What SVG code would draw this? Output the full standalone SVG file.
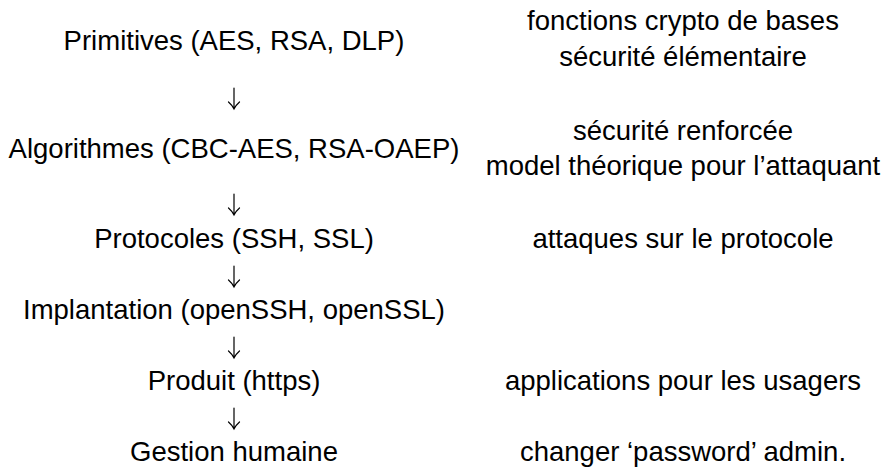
<svg xmlns="http://www.w3.org/2000/svg" width="892" height="468" viewBox="0 0 892 468">
  <style>
    text { font-family: "Liberation Sans", Arial, sans-serif; font-size: 27.5px; fill: #000; text-anchor: middle; }
    .arrow { fill: none; stroke: #000; stroke-width: 1.2; stroke-linecap: round; }
  </style>
  <rect width="892" height="468" fill="#fff"/>

  <!-- layers of the security chain (left) with their notes (right) -->
  <g id="primitives">
    <text x="234" y="50">Primitives (AES, RSA, DLP)</text>
    <text x="683" y="30">fonctions crypto de bases</text>
    <text x="683" y="66">sécurité élémentaire</text>
  </g>
  <g id="algorithmes">
    <text x="234" y="158">Algorithmes (CBC-AES, RSA-OAEP)</text>
    <text x="683" y="140">sécurité renforcée</text>
    <text x="683" y="175">model théorique pour l’attaquant</text>
  </g>
  <g id="protocoles">
    <text x="234" y="248">Protocoles (SSH, SSL)</text>
    <text x="683" y="248">attaques sur le protocole</text>
  </g>
  <g id="implantation">
    <text x="234" y="319">Implantation (openSSH, openSSL)</text>
  </g>
  <g id="produit">
    <text x="234" y="390">Produit (https)</text>
    <text x="683" y="390">applications pour les usagers</text>
  </g>
  <g id="gestion">
    <text x="234" y="461">Gestion humaine</text>
    <text x="683" y="461">changer ‘password’ admin.</text>
  </g>

  <!-- downward arrows between layers -->
  <g id="connectors" class="arrow">
    <path d="M234,88 V109 M228.5,102 Q232,105 234,109 Q236,105 239.5,102"/>
    <path d="M234,194 V215 M228.5,208 Q232,211 234,215 Q236,211 239.5,208"/>
    <path d="M234,266 V287 M228.5,280 Q232,283 234,287 Q236,283 239.5,280"/>
    <path d="M234,337 V358 M228.5,351 Q232,354 234,358 Q236,354 239.5,351"/>
    <path d="M234,408 V429 M228.5,422 Q232,425 234,429 Q236,425 239.5,422"/>
  </g>
</svg>
